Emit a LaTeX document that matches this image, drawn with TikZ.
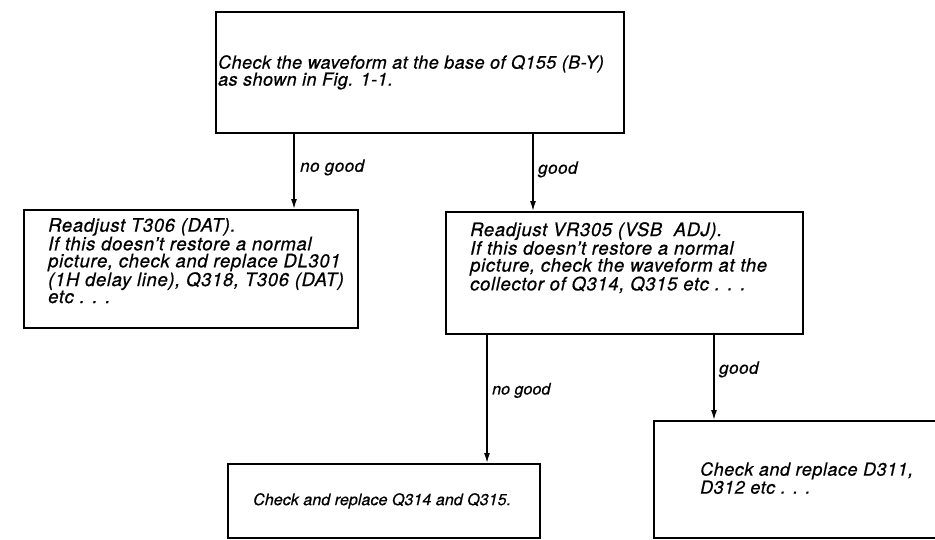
\documentclass[tikz,border=0pt]{standalone}
\usepackage{fontspec}
\setmainfont{TeX Gyre Heros}
\usetikzlibrary{arrows.meta,calc}
\newcommand{\ftxt}[3]{\fontsize{#1}{#2}\selectfont\itshape\addfontfeature{LetterSpace=#3,FakeBold=0.6}}
\begin{document}
\begin{tikzpicture}[x=1pt,y=-1pt,
  box/.style={draw,line width=2.4pt,inner sep=0pt,anchor=north west},
  txt/.style={inner sep=0pt,anchor=north west,align=left,font=\ftxt{18.5}{17}{3.5}},
  lbl/.style={inner sep=0pt,anchor=west,font=\ftxt{17}{17}{3}},
  conn/.style={line width=1.4pt,-{Latex[length=10pt,width=6pt]}}]
\useasboundingbox (0,0) rectangle (935,539);
\clip (0,0) rectangle (935,539);
% boxes
\node[box,minimum width=408pt,minimum height=121pt] (top) at (215,11) {};
\node[box,minimum width=334pt,minimum height=118pt] (lft) at (23,209) {};
\node[box,minimum width=357pt,minimum height=122pt] (mid) at (445,211) {};
\node[box,minimum width=312pt,minimum height=74pt] (bl) at (227,463) {};
\node[box,minimum width=300pt,minimum height=117pt] (br) at (653,420) {};
% texts
\node[txt,font=\ftxt{18}{17}{2.5}] (ttop) at (218,55) {Check the waveform at the base of Q155 (B-Y)\\as shown in Fig. 1-1.};
\node[txt] (tlft) at (48,218) {Readjust T306 (DAT).\\If this doesn't restore a normal\\picture, check and replace DL301\\(1H delay line), Q318, T306 (DAT)\\etc . . .};
\node[txt] (tmid) at (470,222) {Readjust VR305 (VSB\ \ ADJ).\\If this doesn't restore a normal\\picture, check the waveform at the\\collector of Q314, Q315 etc . . .};
\node[txt,font=\ftxt{16}{16}{0.5}] (tbl) at (253,493) {Check and replace Q314 and Q315.};
\node[txt,font=\ftxt{18}{18}{3}] (tbr) at (700,462) {Check and replace D311,\\D312 etc . . .};
% connectors
\coordinate (a1) at ($(top.south west)+(79,0)$);
\coordinate (a2) at ($(top.south west)+(318,0)$);
\coordinate (a3) at ($(mid.south west)+(42,0)$);
\coordinate (a4) at ($(mid.south west)+(269,0)$);
\draw[conn] (a1) -- (a1 |- lft.north);
\draw[conn] (a2) -- (a2 |- mid.north);
\draw[conn] (a3) -- (a3 |- bl.north);
\draw[conn] (a4) -- (a4 |- br.north);
% labels
\node[lbl] (l1) at ($(a1)+(6,33)$) {no good};
\node[lbl] (l2) at ($(a2)+(5,35)$) {good};
\node[lbl,font=\ftxt{16}{16}{0.5}] (l3) at ($(a3)+(5,55)$) {no good};
\node[lbl] (l4) at ($(a4)+(5,34)$) {good};
\end{tikzpicture}
\end{document}
